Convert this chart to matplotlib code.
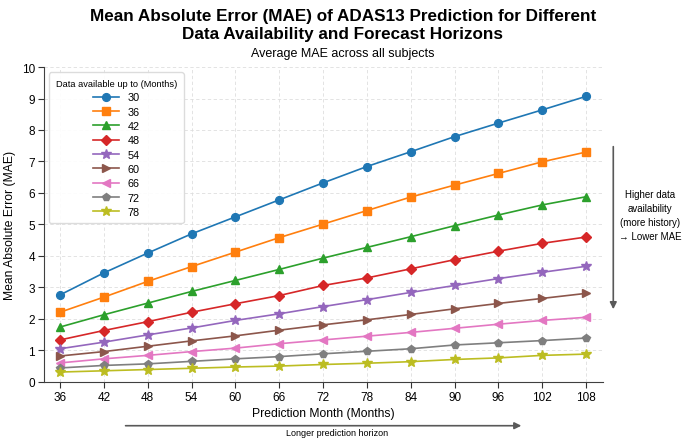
import matplotlib
matplotlib.use("Agg")
import matplotlib.pyplot as plt

plt.rcParams["font.family"] = ["Liberation Sans", "DejaVu Sans"]

# ── data ──────────────────────────────────────────────────────────────────────
months = [36, 42, 48, 54, 60, 66, 72, 78, 84, 90, 96, 102, 108]
availability = [30, 36, 42, 48, 54, 60, 66, 72, 78]

mae_30 = [2.76, 3.46, 4.09, 4.70, 5.24, 5.78, 6.32, 6.84, 7.31, 7.79, 8.22, 8.64, 9.07]
mae_36 = [2.21, 2.69, 3.19, 3.66, 4.12, 4.58, 5.01, 5.44, 5.87, 6.25, 6.62, 6.99, 7.30]
mae_42 = [1.74, 2.13, 2.50, 2.87, 3.22, 3.57, 3.93, 4.27, 4.61, 4.96, 5.30, 5.62, 5.88]
mae_48 = [1.33, 1.63, 1.91, 2.21, 2.48, 2.74, 3.06, 3.30, 3.59, 3.88, 4.15, 4.40, 4.60]
mae_54 = [1.05, 1.26, 1.49, 1.71, 1.95, 2.16, 2.39, 2.61, 2.84, 3.06, 3.28, 3.48, 3.67]
mae_60 = [0.82, 0.96, 1.13, 1.30, 1.46, 1.64, 1.81, 1.97, 2.14, 2.32, 2.49, 2.65, 2.81]
mae_66 = [0.60, 0.73, 0.84, 0.96, 1.07, 1.21, 1.33, 1.45, 1.57, 1.70, 1.83, 1.95, 2.05]
mae_72 = [0.44, 0.52, 0.57, 0.65, 0.73, 0.80, 0.89, 0.97, 1.05, 1.17, 1.24, 1.31, 1.39]
mae_78 = [0.31, 0.35, 0.39, 0.43, 0.47, 0.50, 0.55, 0.59, 0.64, 0.71, 0.76, 0.84, 0.88]

series = [mae_30, mae_36, mae_42, mae_48, mae_54, mae_60, mae_66, mae_72, mae_78]
markers = ["o", "s", "^", "D", "*", ">", "<", "p", "*"]
colors = ["#1f77b4", "#ff7f0e", "#2ca02c", "#d62728", "#9467bd",
          "#8c564b", "#e377c2", "#7f7f7f", "#bcbd22"]

# ── plot ──────────────────────────────────────────────────────────────────────
fig = plt.figure(figsize=(6.86, 4.39), dpi=100)
ax = fig.add_axes([0.064, 0.128, 0.815, 0.717])

for avail, vals, mk, c in zip(availability, series, markers, colors):
    ms = 7 if mk == "*" else 5.6
    ax.plot(months, vals, marker=mk, color=c, lw=1.2, ms=ms, label=str(avail))

ax.set_xlim(33.8, 110.3)
ax.set_ylim(0, 10)
ax.set_xticks(months)
ax.set_yticks(range(0, 11))
ax.tick_params(labelsize=8.5, color="0.2", length=4, pad=2.5)
ax.grid(True, ls=(0, (4, 3)), lw=0.6, color="0.87")
for s in ("top", "right"):
    ax.spines[s].set_visible(False)
for s in ("left", "bottom"):
    ax.spines[s].set_color("0.25")

ax.set_xlabel("Prediction Month (Months)", fontsize=8.7, labelpad=3)
ax.set_ylabel("Mean Absolute Error (MAE)", fontsize=8.7, labelpad=3)
ax.yaxis.set_label_coords(-0.05, 0.5)

leg = ax.legend(title="Data available up to (Months)", loc="upper left",
                fontsize=7.8, title_fontsize=6.7, framealpha=0.9,
                borderpad=0.6, labelspacing=0.4, handlelength=2.4,
                handletextpad=0.8)
leg.get_frame().set_edgecolor("0.85")

fig.text(0.5, 0.941, "Mean Absolute Error (MAE) of ADAS13 Prediction for Different\n"
         "Data Availability and Forecast Horizons",
         ha="center", va="center", fontsize=12.3, fontweight="bold", linespacing=1.25)
fig.text(0.5, 0.876, "Average MAE across all subjects", ha="center", va="center",
         fontsize=9)

# side annotation: availability arrow
fig.add_artist(matplotlib.patches.FancyArrowPatch(
    (0.894, 0.670), (0.894, 0.287), transform=fig.transFigure,
    arrowstyle="-|>", mutation_scale=10, color="0.35", lw=1.2))
fig.text(0.948, 0.508, "Higher data\navailability\n(more history)\n\u2192 Lower MAE",
         ha="center", va="center", fontsize=7, linespacing=1.5)

# bottom annotation: horizon arrow
fig.add_artist(matplotlib.patches.FancyArrowPatch(
    (0.179, 0.028), (0.764, 0.028), transform=fig.transFigure,
    arrowstyle="-|>", mutation_scale=10, color="0.35", lw=1.2))
fig.text(0.491, 0.012, "Longer prediction horizon", ha="center", va="center",
         fontsize=6.5)

fig.savefig("out.png", dpi=100)
